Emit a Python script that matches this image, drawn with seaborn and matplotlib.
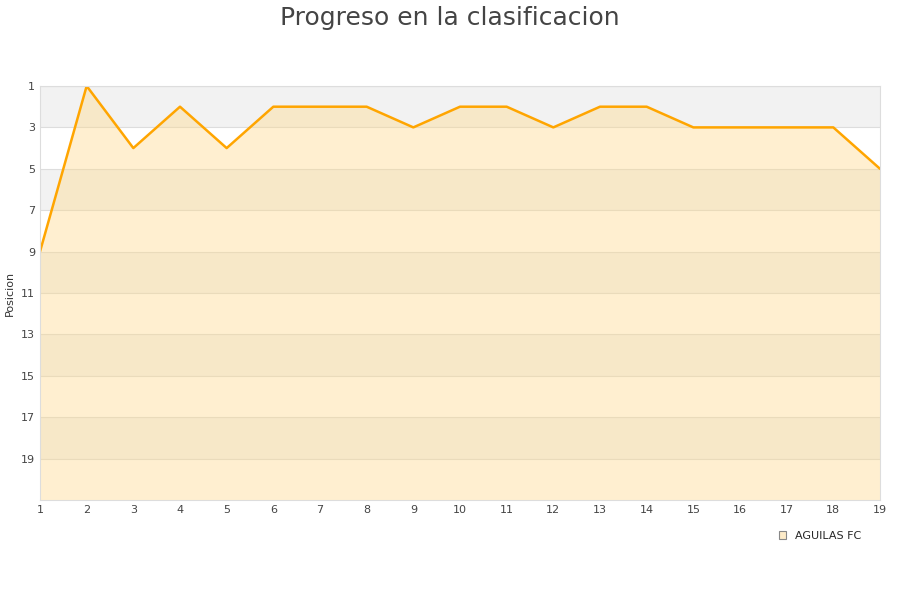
import seaborn as sns
import pandas as pd
import matplotlib.pyplot as plt
from matplotlib.patches import Patch

# data
jornadas = list(range(1, 20))
posiciones = [9, 1, 4, 2, 4, 2, 2, 2, 3, 2, 2, 3, 2, 2, 3, 3, 3, 3, 5]
equipo = 'AGUILAS FC'
y_ticks = [1, 3, 5, 7, 9, 11, 13, 15, 17, 19]

df = pd.DataFrame({'Jornada': jornadas, 'Posicion': posiciones})

sns.set_style('white')
plt.rcParams['font.family'] = ['DejaVu Sans']

fig = plt.figure(figsize=(9, 6), dpi=100)
ax = fig.add_axes([40 / 900, 100 / 600, 840 / 900, 414 / 600])

# alternating bands behind the data
for i, lo in enumerate(range(1, 21, 2)):
    if i % 2 == 0:
        ax.axhspan(lo, lo + 2, color='#f2f2f2', zorder=0, lw=0)
    ax.axhline(lo, color='#dddddd', lw=0.8, zorder=0.5)

ax.fill_between(df['Jornada'], df['Posicion'], 21, color='#ffd98a', alpha=0.4, zorder=1, lw=0)
sns.lineplot(data=df, x='Jornada', y='Posicion', color='#ffa500', linewidth=1.8, ax=ax, zorder=2)

ax.set_xlim(1, 19)
ax.set_ylim(21, 1)
ax.set_xticks(jornadas)
ax.set_yticks(y_ticks)
ax.tick_params(labelsize=8, colors='#444444', length=0)
ax.set_xlabel('')
ax.set_ylabel('Posicion', fontsize=8, color='#333333')
ax.yaxis.set_label_coords(-0.03, 0.5)
for s in ax.spines.values():
    s.set_color('#dddddd')

fig.suptitle('Progreso en la clasificacion', fontsize=18, color='#444444', y=0.99)

handle = Patch(facecolor='#fdebc8', edgecolor='#888888', linewidth=0.8)
fig.legend([handle], [equipo], loc='center', bbox_to_anchor=(820 / 900, 1 - 536 / 600),
           frameon=False, fontsize=8, handlelength=0.7, handleheight=0.7)

plt.savefig('out.png')
